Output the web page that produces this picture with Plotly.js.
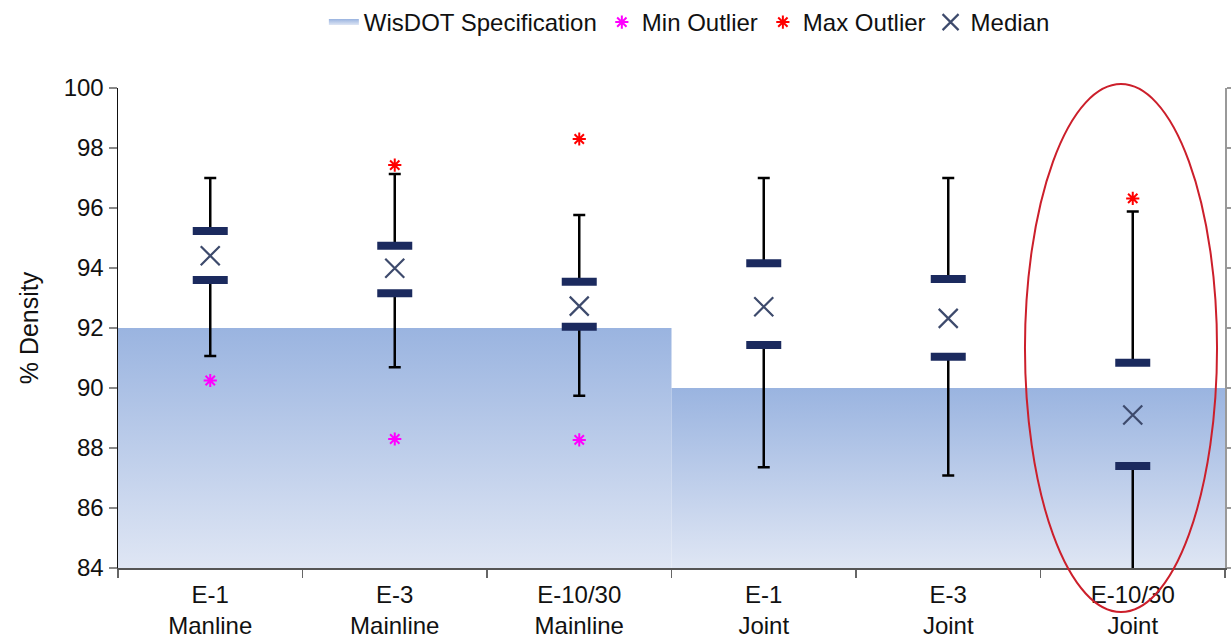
<!DOCTYPE html>
<html>
<head>
<meta charset="utf-8">
<script src="https://cdn.plot.ly/plotly-3.0.1.min.js"></script>
<style>
html,body{margin:0;padding:0;background:#fff;}
#chart{width:1231px;height:640px;}
</style>
</head>
<body>
<div id="chart"></div>
<script>
// ---- data ----
var categories = ['E-1<br>Manline','E-3<br>Mainline','E-10/30<br>Mainline','E-1<br>Joint','E-3<br>Joint','E-10/30<br>Joint'];
var maxWhisker = [97.0, 97.13, 95.77, 97.0, 97.0, 95.88];
var q3Values   = [95.23, 94.74, 93.54, 94.16, 93.63, 90.84];
var medians    = [94.41, 93.99, 92.73, 92.71, 92.32, 89.1];
var q1Values   = [93.6, 93.16, 92.04, 91.43, 91.04, 87.4];
var minWhisker = [91.07, 90.69, 89.74, 87.36, 87.08, 83.0];
var minOutliers = [90.25, 88.3, 88.27, null, null, null];
var maxOutliers = [null, 97.43, 98.3, null, null, 96.32];
var specLevels = [92, 92, 92, 90, 90, 90];
var yTicks = [84, 86, 88, 90, 92, 94, 96, 98, 100];

var xs = categories.map(function(_, i){ return i; });
var yMin = 84, yMax = 100;
var FONT = '"Liberation Sans", Arial, sans-serif';

// spec fill: one polygon per run of equal spec level
var traces = [];
var runs = [];
var start = 0;
for (var i = 1; i <= specLevels.length; i++) {
  if (i === specLevels.length || specLevels[i] !== specLevels[start]) {
    runs.push({a: start, b: i - 1, level: specLevels[start]});
    start = i;
  }
}
runs.forEach(function(r, k){
  traces.push({
    type: 'scatter', mode: 'none',
    x: [r.a - 0.5, r.b + 0.5, r.b + 0.5, r.a - 0.5, r.a - 0.5],
    y: [yMin, yMin, r.level, r.level, yMin],
    fill: 'toself',
    fillcolor: '#a9bfe6',
    fillgradient: {type: 'vertical', colorscale: [[0, '#dfe6f4'], [1, '#9ab4e0']]},
    name: 'WisDOT Specification',
    legendgroup: 'spec',
    showlegend: k === 0,
    hoverinfo: 'skip'
  });
});

// upper whiskers (Q3 -> max)
traces.push({
  type: 'scatter', mode: 'markers', x: xs, y: q3Values,
  marker: {size: 1, opacity: 0},
  error_y: {type: 'data', symmetric: false,
    array: maxWhisker.map(function(v, i){ return v - q3Values[i]; }),
    arrayminus: xs.map(function(){ return 0; }),
    color: '#000', thickness: 2.5, width: 6},
  showlegend: false, hoverinfo: 'skip'
});
// lower whiskers (min -> Q1)
traces.push({
  type: 'scatter', mode: 'markers', x: xs, y: q1Values,
  marker: {size: 1, opacity: 0},
  error_y: {type: 'data', symmetric: false,
    array: xs.map(function(){ return 0; }),
    arrayminus: minWhisker.map(function(v, i){ return q1Values[i] - v; }),
    color: '#000', thickness: 2.5, width: 6},
  showlegend: false, hoverinfo: 'skip'
});
// quartile bars
[q3Values, q1Values].forEach(function(arr){
  traces.push({
    type: 'scatter', mode: 'markers', x: xs, y: arr,
    marker: {symbol: 'line-ew-open', size: 25, color: '#1b2a5e', line: {color: '#1b2a5e', width: 8}},
    showlegend: false, hoverinfo: 'skip'
  });
});
// outliers & median
traces.push({
  type: 'scatter', mode: 'markers', x: xs, y: minOutliers, name: 'Min Outlier',
  marker: {symbol: 'asterisk-open', size: 11, color: '#ff00ff', line: {color: '#ff00ff', width: 2}}
});
traces.push({
  type: 'scatter', mode: 'markers', x: xs, y: maxOutliers, name: 'Max Outlier',
  marker: {symbol: 'asterisk-open', size: 11, color: '#ff0000', line: {color: '#ff0000', width: 2}}
});
traces.push({
  type: 'scatter', mode: 'markers', x: xs, y: medians, name: 'Median',
  marker: {symbol: 'x-thin-open', size: 19, color: '#3d4a6c', line: {color: '#3d4a6c', width: 2.2}}
});
// dummy trace for right-side axis
traces.push({type: 'scatter', mode: 'markers', x: [null], y: [null], yaxis: 'y2', showlegend: false, hoverinfo: 'skip'});

var layout = {
  width: 1231, height: 640,
  margin: {l: 118, r: 6, t: 88, b: 72},
  paper_bgcolor: '#fff', plot_bgcolor: '#fff',
  font: {family: FONT, color: '#111', size: 24},
  showlegend: true,
  legend: {
    orientation: 'h', xref: 'container', yref: 'container',
    x: 0.56, xanchor: 'center', y: 1.0, yanchor: 'top',
    font: {family: FONT, size: 24, color: '#111'},
    itemwidth: 30, tracegroupgap: 0, bgcolor: 'rgba(0,0,0,0)'
  },
  xaxis: {
    range: [-0.5, categories.length - 0.5],
    tickmode: 'array', tickvals: xs, ticktext: categories,
    ticks: '', showgrid: false, zeroline: false,
    showline: true, linecolor: '#555', linewidth: 2,
    tickfont: {family: FONT, size: 24, color: '#111'},
    ticklabelstandoff: 4,
    minor: {tickmode: 'linear', tick0: -0.5, dtick: 1, ticks: 'outside', ticklen: 8, tickcolor: '#666', tickwidth: 1.5, showgrid: false}
  },
  yaxis: {
    range: [yMin, yMax], tickmode: 'array', tickvals: yTicks,
    ticks: 'outside', ticklen: 8, tickcolor: '#888', tickwidth: 1.5,
    showgrid: false, zeroline: false,
    showline: true, linecolor: '#111', linewidth: 1.5,
    tickfont: {family: FONT, size: 24, color: '#111'},
    title: {text: '% Density', font: {family: FONT, size: 25, color: '#111'}, standoff: 18}
  },
  yaxis2: {
    range: [yMin, yMax], tickmode: 'array', tickvals: yTicks,
    overlaying: 'y', side: 'right', anchor: 'x',
    ticks: 'outside', ticklen: 5, tickcolor: '#999', tickwidth: 1.5,
    showticklabels: false, showgrid: false, zeroline: false,
    showline: true, linecolor: '#999', linewidth: 1.5
  },
  shapes: [{
    type: 'circle', xref: 'paper', yref: 'paper',
    x0: 0.8193, x1: 0.9928, y0: -0.0917, y1: 1.0083,
    line: {color: '#cc1f2b', width: 2}, layer: 'above'
  }]
};

Plotly.newPlot('chart', traces, layout, {displayModeBar: false, staticPlot: true});
</script>
</body>
</html>
